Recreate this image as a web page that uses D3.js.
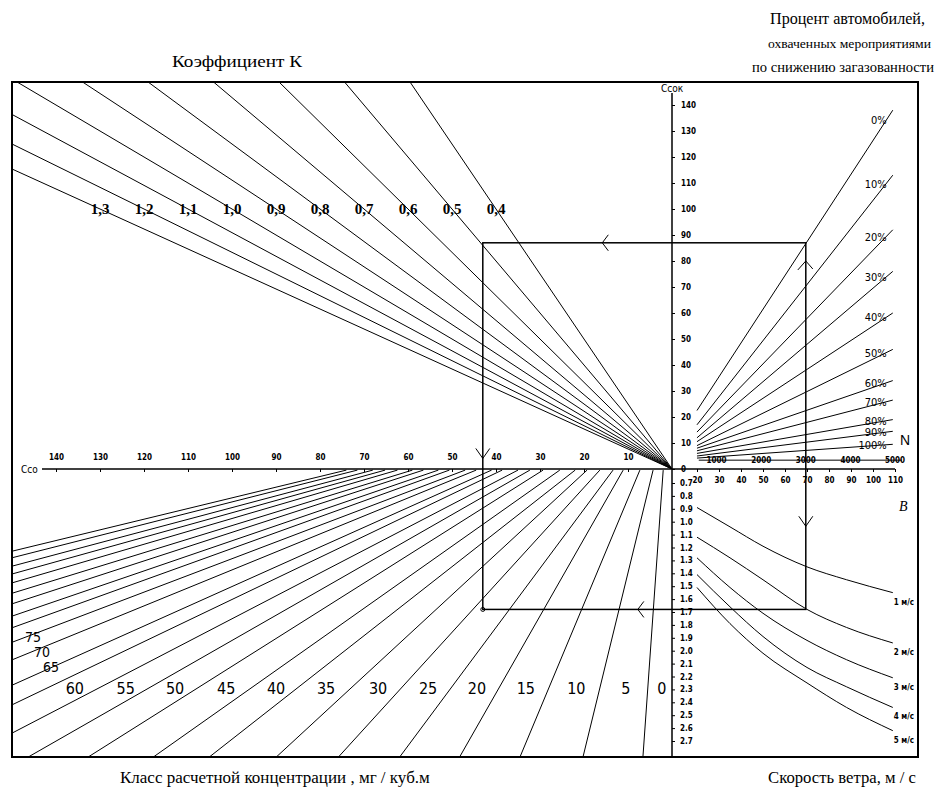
<!DOCTYPE html>
<html>
<head>
<meta charset="utf-8">
<script src="https://cdn.jsdelivr.net/npm/d3@7"></script>
<style>
  body { margin: 0; background: #fff; }
  svg { display: block; }
  .ln { fill: none; stroke: #000; stroke-width: 1; }
  .tiny { font-family: "DejaVu Sans Condensed", "Liberation Sans Narrow", sans-serif; font-size: 8px; font-weight: bold; }
  .serif { font-family: "Liberation Serif", "DejaVu Serif", serif; font-size: 16px; }
  .narrow { font-family: "Liberation Sans Narrow", "DejaVu Sans Condensed", sans-serif; }
</style>
</head>
<body>
<script>
// ---- data ----
// upper left: coefficient K rays, Cco = K * Ccok
const kValues = [1.3, 1.2, 1.1, 1.0, 0.9, 0.8, 0.7, 0.6, 0.5, 0.4];
const kLabels = ["1,3", "1,2", "1,1", "1,0", "0,9", "0,8", "0,7", "0,6", "0,5", "0,4"];

// upper right: share of cars covered by measures, Ccok vs N
const pctLabels = ["0%", "10%", "20%", "30%", "40%", "50%", "60%", "70%", "80%", "90%", "100%"];
const pctCcokStart = [22.5, 17, 14.2, 12, 10.5, 9, 8, 7, 6, 5, 4.2];
const pctCcokEnd = [138, 113, 92, 76, 60, 46, 34, 26.5, 19, 14.5, 9.5];
const pctN = [560, 4950];

// lower left: concentration classes, Cco at the top and bottom of the quadrant
const classValues = [0, 5, 10, 15, 20, 25, 30, 35, 40, 45, 50, 55, 60, 65, 70, 75, 80, 85, 90, 95, 100, 105, 110, 115, 120];
const classCcoTop = [2.0, 4.3, 7.3, 11.1, 13.4, 16.4, 19.3, 22.0, 25.5, 29.3, 32.3, 35.0, 38.6, 41.0, 44.5, 47.0, 50.6, 53.1, 56.5, 59.0, 62.4, 65.2, 68.0, 71.5, 74.0];
const classCcoBottom = [6.6, 20.2, 34.5, 48.2, 61.8, 75.7, 89.8, 105, 117.7, 132.5, 146.1, 160.2, 174.5, 186.1, 203.7, 218.3, 231.1, 243.1, 256.7, 270.6, 284.8, 298.9, 312.4, 327.9, 342.3];
const classCoefRange = [0.6, 2.82];
const labelledClasses = [0, 5, 10, 15, 20, 25, 30, 35, 40, 45, 50, 55, 60, 65, 70, 75];

// lower right: wind speed curves
const windLabels = ["1 м/с", "2 м/с", "3 м/с", "4 м/с", "5 м/с"];
const windB = [20, 35, 50, 70, 88, 109];
const windCoef = [
  [0.89, 1.04, 1.19, 1.35, 1.45, 1.55],
  [1.12, 1.28, 1.45, 1.68, 1.82, 1.94],
  [1.28, 1.51, 1.71, 1.92, 2.07, 2.21],
  [1.41, 1.66, 1.89, 2.13, 2.28, 2.44],
  [1.51, 1.79, 2.02, 2.25, 2.44, 2.62]
];

// axis ticks
const ccoTicks = [10, 20, 30, 40, 50, 60, 70, 80, 90, 100, 110, 120, 130, 140];
const ccokTicks = [0, 10, 20, 30, 40, 50, 60, 70, 80, 90, 100, 110, 120, 130, 140];
const coefTicks = [0.7, 0.8, 0.9, 1.0, 1.1, 1.2, 1.3, 1.4, 1.5, 1.6, 1.7, 1.8, 1.9, 2.0, 2.1, 2.2, 2.3, 2.4, 2.5, 2.6, 2.7];
const bTicks = [20, 30, 40, 50, 60, 70, 80, 90, 100, 110];
const nTicks = [1000, 2000, 3000, 4000, 5000];
const nLineCcok = 3.4;

// worked example (the key rectangle)
const exampleN = 3000, exampleCcok = 87, exampleCco = 43, exampleCoef = 1.68;

// ---- layout ----
const W = 940, H = 792;
const frame = { x0: 12, y0: 82, x1: 918, y1: 757 };
const ox = 672, oy = 469;

const xCco = d3.scaleLinear().domain([0, 150]).range([ox, 12]);
const yCcok = d3.scaleLinear().domain([0, 140]).range([oy, 105]);
const xN = d3.scaleLinear().domain([0, 5000]).range([ox, 895]);
const xB = d3.scaleLinear().domain([20, 110]).range([697, 895]);
const yCoef = d3.scaleLinear().domain([0.7, 2.7]).range([483, 741]);

const svg = d3.select("body").append("svg").attr("width", W).attr("height", H);
const defs = svg.append("defs");
defs.append("clipPath").attr("id", "clipUL").append("rect")
  .attr("x", frame.x0).attr("y", frame.y0).attr("width", ox - frame.x0).attr("height", oy - frame.y0);
defs.append("clipPath").attr("id", "clipLL").append("rect")
  .attr("x", frame.x0).attr("y", oy).attr("width", ox - frame.x0).attr("height", frame.y1 - oy);

const line = d3.line();

// frame
svg.append("rect").attr("x", frame.x0).attr("y", frame.y0)
  .attr("width", frame.x1 - frame.x0).attr("height", frame.y1 - frame.y0)
  .attr("fill", "none").attr("stroke", "#000").attr("stroke-width", 2);

// K rays
const ul = svg.append("g").attr("clip-path", "url(#clipUL)");
ul.selectAll("path").data(kValues).enter().append("path")
  .attr("class", "ln")
  .attr("d", k => line([[xCco(0), yCcok(0)], [xCco(k * 170), yCcok(170)]]));

svg.append("g").selectAll("text").data(kValues).enter().append("text")
  .attr("x", k => xCco(k * 100)).attr("y", yCcok(100) + 5)
  .attr("text-anchor", "middle")
  .attr("font-family", "Liberation Serif, serif").attr("font-weight", "bold").attr("font-size", 15)
  .text((k, i) => kLabels[i]);

// concentration class lines
const ll = svg.append("g").attr("clip-path", "url(#clipLL)");
ll.selectAll("path").data(classValues).enter().append("path")
  .attr("class", "ln")
  .attr("d", (c, i) => line([
    [xCco(classCcoTop[i]), yCoef(classCoefRange[0])],
    [xCco(classCcoBottom[i]), yCoef(classCoefRange[1])]
  ]));

function classX(i, v) {
  const t = (v - classCoefRange[0]) / (classCoefRange[1] - classCoefRange[0]);
  return xCco(classCcoTop[i] + (classCcoBottom[i] - classCcoTop[i]) * t);
}
const labelCoef = 2.29;
svg.append("g").attr("class", "narrow")
  .selectAll("text").data(labelledClasses).enter().append("text")
  .attr("text-anchor", "middle")
  .attr("font-size", c => c >= 65 ? 14 : 16)
  .attr("x", (c, i) => {
    if (c >= 65) return 33 + (75 - c) * 1.8;
    const right = i === 0 ? ox : classX(i - 1, labelCoef);
    return (classX(i, labelCoef) + right) / 2 + 2;
  })
  .attr("y", c => c >= 65 ? 642 + (75 - c) * 3 : yCoef(labelCoef) + 6)
  .text(c => c);

// percentage lines
svg.append("g").selectAll("path").data(pctLabels).enter().append("path")
  .attr("class", "ln")
  .attr("d", (p, i) => line([[xN(pctN[0]), yCcok(pctCcokStart[i])], [xN(pctN[1]), yCcok(pctCcokEnd[i])]]));

svg.append("g").attr("class", "narrow").attr("font-size", 11)
  .selectAll("text").data(pctLabels).enter().append("text")
  .attr("text-anchor", "end")
  .attr("x", xN(pctN[1]) - 6)
  .attr("y", (p, i) => {
    const n = pctN[1] - 150;
    const v = pctCcokStart[i] + (pctCcokEnd[i] - pctCcokStart[i]) * (n - pctN[0]) / (pctN[1] - pctN[0]);
    return yCcok(v) + 4;
  })
  .text(p => p);

// N scale line with labels
svg.append("path").attr("class", "ln")
  .attr("d", line([[xN(600), yCcok(nLineCcok)], [xN(5150), yCcok(nLineCcok)]]));
svg.append("g").attr("class", "tiny")
  .selectAll("text").data(nTicks).enter().append("text")
  .attr("x", d => xN(d)).attr("y", yCcok(nLineCcok) + 3)
  .attr("text-anchor", "middle")
  .text(d => d);

// wind speed curves
const windLine = d3.line().x(d => xB(d[0])).y(d => yCoef(d[1])).curve(d3.curveMonotoneX);
svg.append("g").selectAll("path").data(windCoef).enter().append("path")
  .attr("class", "ln")
  .attr("d", row => windLine(row.map((v, j) => [windB[j], v])));
svg.append("g").attr("class", "tiny")
  .selectAll("text").data(windLabels).enter().append("text")
  .attr("x", xB(windB[windB.length - 1]) + 1)
  .attr("y", (w, i) => yCoef(windCoef[i][windB.length - 1]) + 12)
  .text(w => w);

// axes
svg.append("path").attr("stroke", "#000").attr("stroke-width", 1.5)
  .attr("d", line([[42, oy], [895, oy]]));
svg.append("path").attr("stroke", "#000").attr("stroke-width", 1.5)
  .attr("d", line([[ox, 93], [ox, frame.y1]]));

const ccoAxis = svg.append("g").attr("transform", `translate(0,${oy})`).attr("class", "tiny")
  .call(d3.axisBottom(xCco).tickValues(ccoTicks).tickSize(3));
ccoAxis.select(".domain").remove();
ccoAxis.selectAll("text").attr("y", -15).attr("dy", "0.71em");

const ccokAxis = svg.append("g").attr("transform", `translate(${ox},0)`).attr("class", "tiny")
  .call(d3.axisRight(yCcok).tickValues(ccokTicks).tickSize(3));
ccokAxis.select(".domain").remove();
ccokAxis.selectAll("text").attr("x", 9);

const coefAxis = svg.append("g").attr("transform", `translate(${ox},0)`).attr("class", "tiny")
  .call(d3.axisRight(yCoef).tickValues(coefTicks).tickSize(3).tickFormat(d3.format(".1f")));
coefAxis.select(".domain").remove();
coefAxis.selectAll("text").attr("x", 8);

const bAxis = svg.append("g").attr("transform", `translate(0,${oy})`).attr("class", "tiny")
  .call(d3.axisBottom(xB).tickValues(bTicks).tickSize(3));
bAxis.select(".domain").remove();
bAxis.selectAll("text").attr("y", 8);

svg.selectAll(".tick line").attr("stroke", "#000");
svg.selectAll(".tick text").attr("fill", "#000").attr("font-size", 8)
  .attr("font-family", "DejaVu Sans Condensed, sans-serif").attr("font-weight", "bold");

// worked example rectangle and direction marks
const rx0 = xCco(exampleCco), rx1 = xN(exampleN);
const ry0 = yCcok(exampleCcok), ry1 = yCoef(exampleCoef);
svg.append("rect").attr("x", rx0).attr("y", ry0).attr("width", rx1 - rx0).attr("height", ry1 - ry0)
  .attr("fill", "none").attr("stroke", "#000").attr("stroke-width", 1.5);
const marks = [
  { x: rx0 + 0.37 * (rx1 - rx0), y: ry0, d: "left" },
  { x: rx0, y: ry0 + 0.58 * (ry1 - ry0), d: "down" },
  { x: rx1, y: ry0 + 0.055 * (ry1 - ry0), d: "up" },
  { x: rx1, y: ry0 + 0.765 * (ry1 - ry0), d: "down" },
  { x: rx0 + 0.48 * (rx1 - rx0), y: ry1, d: "left" }
];
svg.append("g").selectAll("path").data(marks).enter().append("path")
  .attr("class", "ln")
  .attr("d", m => {
    if (m.d === "left") return line([[m.x + 6, m.y - 8], [m.x, m.y], [m.x + 6, m.y + 8]]);
    if (m.d === "up") return line([[m.x - 8, m.y + 7], [m.x, m.y - 2], [m.x + 7, m.y + 6]]);
    return line([[m.x - 7, m.y - 7], [m.x, m.y + 3], [m.x + 7, m.y - 7]]);
  });
svg.append("circle").attr("cx", rx0).attr("cy", ry1).attr("r", 2)
  .attr("fill", "none").attr("stroke", "#000");

// axis names
svg.append("text").attr("class", "narrow").attr("font-size", 10).attr("x", 21).attr("y", oy + 4).text("Cco");
svg.append("text").attr("class", "narrow").attr("font-size", 10).attr("x", 661).attr("y", 92).text("Ccoк");
svg.append("text").attr("font-family", "Liberation Sans, sans-serif").attr("font-size", 14).attr("x", 900).attr("y", 445).text("N");
svg.append("text").attr("font-family", "Liberation Serif, serif").attr("font-style", "italic").attr("font-size", 14).attr("x", 899).attr("y", 511).text("B");

// titles (stretched to the widths they take in the original)
function title(x, y, s, len, size) {
  const t = svg.append("text").attr("class", "serif").attr("x", x).attr("y", y).text(s);
  if (size) t.style("font-size", size + "px");
  if (len) t.attr("textLength", len).attr("lengthAdjust", "spacingAndGlyphs");
}
title(172, 67, "Коэффициент К", 130);
title(770, 24, "Процент автомобилей,", 155);
title(768, 48, "охваченных мероприятиями", 163, 13.5);
title(752, 72, "по снижению загазованности", 182, 14.5);
title(120, 783, "Класс расчетной концентрации , мг / куб.м", null, 17);
title(768, 783, "Скорость ветра, м / с", 148, 17);
</script>
</body>
</html>
